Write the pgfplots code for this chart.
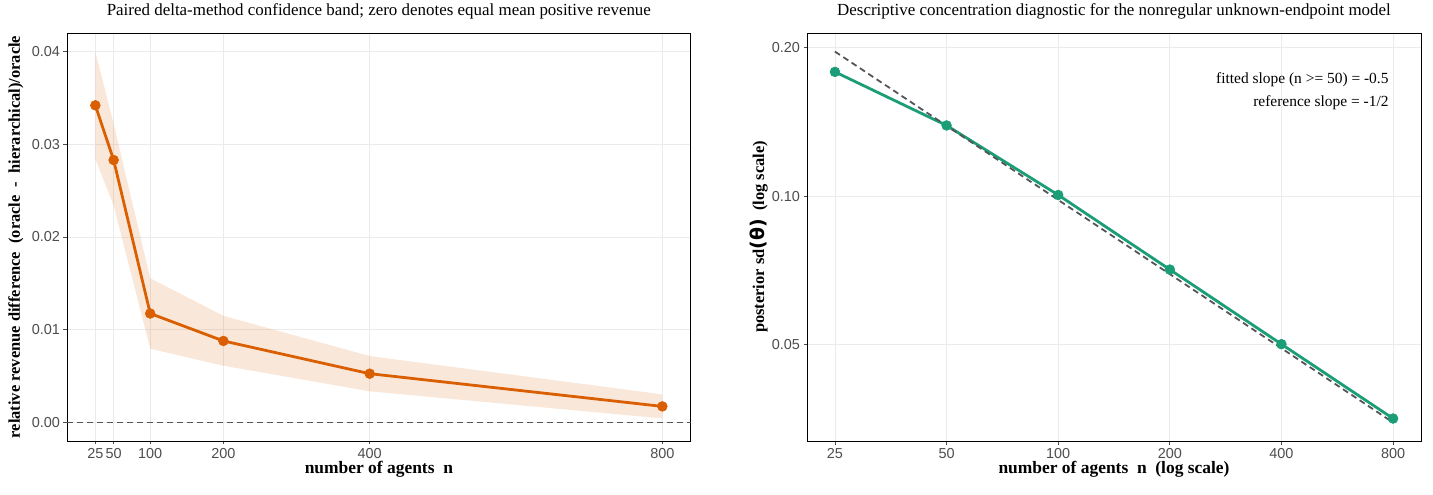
\documentclass[border=0pt]{standalone}
\usepackage{pgfplots}
\pgfplotsset{compat=1.18}
\usepackage{fontspec}
\setmainfont{Liberation Serif}
\newfontfamily\tickfont{Liberation Sans}
\newfontfamily\symfont{DejaVu Sans}

\definecolor{dkorange}{HTML}{D95F02}
\definecolor{dkgreen}{HTML}{1B9E77}
\definecolor{gridgray}{HTML}{EBEBEB}
\definecolor{tickgray}{HTML}{4D4D4D}
\definecolor{refgray}{HTML}{555555}

% relative revenue difference (point estimates)
\pgfplotstableread{
n    diff
25   0.0342
50   0.0283
100  0.01175
200  0.00879
400  0.00526
800  0.00173
}\revtab

% paired delta-method band: upper edge left to right, lower edge right to left
\pgfplotstableread{
n    y
25   0.0400
50   0.0322
100  0.01555
200  0.01150
400  0.00716
800  0.00303
800  0.00043
400  0.00336
200  0.00612
100  0.00795
50   0.0234
25   0.0284
}\bandtab

% posterior sd and the -1/2 reference slope
\pgfplotstableread{
n    sd       ref
25   0.1788   0.1966
50   0.1392   0.1390
100  0.1006   0.0983
200  0.0710   0.0695
400  0.0501   0.04915
800  0.0354   0.03475
}\sdtab

\pgfplotsset{
  panel/.style={
    scale only axis, anchor=south west,
    axis line style={black, line width=0.9bp},
    grid=major, major grid style={gridgray, line width=0.8bp},
    xtick pos=left, ytick pos=left,
    tick style={tickgray, line width=0.8bp}, tick align=outside, major tick length=3.5bp,
    ticklabel style={font=\tickfont\fontsize{14.5}{14.5}\selectfont, text=tickgray},
    /pgf/number format/assume math mode=true,
    scaled ticks=false,
    xlabel style={font=\fontsize{17.5}{17.5}\selectfont\bfseries, at={(axis description cs:0.5,0)}, anchor=base, yshift=-32bp},
    title style={font=\fontsize{17}{17}\selectfont, at={(axis description cs:0.5,1)}, anchor=base, yshift=12bp},
    xtick={25,50,100,200,400,800},
    xticklabels={25,50,100,200,400,800},
  },
  dot/.style={mark=*, mark size=4.9bp, mark options={solid, line width=0.6bp}},
}

\begin{document}
\begin{tikzpicture}
\path[use as bounding box] (0bp,0bp) rectangle (1433bp,495bp);

\begin{axis}[panel, at={(67bp,54bp)}, width=623.7bp, height=408bp,
  xmin=-13.75, xmax=838.75, ymin=-0.002, ymax=0.042,
  ytick={0,0.01,0.02,0.03,0.04},
  yticklabels={0.00,0.01,0.02,0.03,0.04},
  title={Paired delta-method confidence band; zero denotes equal mean positive revenue},
  xlabel={number of agents\ \ n},
  ylabel={relative revenue difference\ \ (oracle\ \ -\ \ hierarchical)/oracle},
  ylabel style={font=\fontsize{16.5}{16.5}\selectfont\bfseries, at={(axis description cs:-0.0754,0.5)}, anchor=base},
]
\addplot[fill=dkorange, fill opacity=0.15, draw=none] table[x=n, y=y] {\bandtab} -- cycle;
\addplot[refgray, line width=1.6bp, dash pattern=on 6bp off 4bp] coordinates {(-13.75,0) (838.75,0)};
\addplot[dkorange, line width=2.8bp, dot] table[x=n, y=diff] {\revtab};
\end{axis}

\begin{axis}[panel, at={(807bp,54bp)}, width=614bp, height=408bp,
  xmode=log, ymode=log, log basis x=2,
  xmin=21.02, xmax=951.4, ymin=0.03187, ymax=0.2144,
  ytick={0.05,0.1,0.2},
  yticklabels={0.05,0.10,0.20},
  title={Descriptive concentration diagnostic for the nonregular unknown-endpoint model},
  xlabel={number of agents\ \ n\ \ (log scale)},
  ylabel={posterior sd{\symfont\fontsize{19}{19}\selectfont(θ)}\ \ (log scale)},
  ylabel style={font=\fontsize{16.5}{16.5}\selectfont\bfseries, at={(axis description cs:-0.070,0.5)}, anchor=base},
]
\addplot[dkgreen, line width=2.8bp, dot] table[x=n, y=sd] {\sdtab};
\addplot[refgray, line width=1.8bp, dash pattern=on 6bp off 4bp] table[x=n, y=ref] {\sdtab};
\node[anchor=base east, font=\fontsize{15.5}{15.5}\selectfont] at (axis description cs:0.9528,0.877) {fitted slope (n >= 50) = -0.5};
\node[anchor=base east, font=\fontsize{15.5}{15.5}\selectfont] at (axis description cs:0.9528,0.821) {reference slope = -1/2};
\end{axis}
\end{tikzpicture}
\end{document}
